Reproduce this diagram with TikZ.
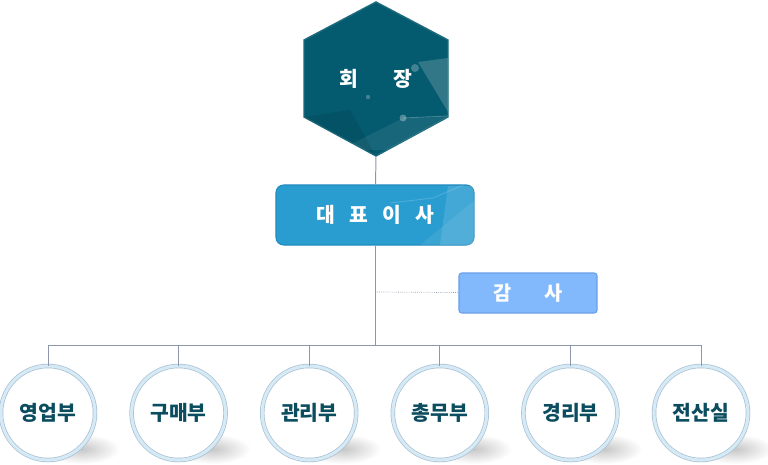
\documentclass[tikz,border=0pt]{standalone}
\usepackage{fontspec}
\newfontfamily\kr{Noto Sans CJK KR}
\usetikzlibrary{calc}
\definecolor{hexfill}{RGB}{4,90,110}
\definecolor{hexedge}{RGB}{30,108,126}
\definecolor{ceofill}{RGB}{42,157,208}
\definecolor{ceoedge}{RGB}{36,140,190}
\definecolor{auditfill}{RGB}{130,184,252}
\definecolor{auditedge}{RGB}{108,160,232}
\definecolor{linkcol}{RGB}{141,150,170}
\definecolor{ringedge}{RGB}{168,192,210}
\definecolor{ringfill}{RGB}{214,234,246}
\definecolor{depttext}{RGB}{11,77,95}

\begin{document}
\begin{tikzpicture}[x=0.025cm, y=-0.025cm,
  title/.style={font=\kr\bfseries\fontsize{14.5}{17}\selectfont, text=white},
  ceobox/.style={rectangle, draw=ceoedge, fill=ceofill, line width=0.8pt,
                 rounded corners=5.5pt, minimum width=4.95cm, minimum height=1.5cm},
  auditbox/.style={rectangle, draw=auditedge, fill=auditfill, line width=0.8pt,
                   rounded corners=2pt, minimum width=3.45cm, minimum height=1.0cm},
  dept/.style={circle, fill=white, draw=ringedge, double=ringfill, double distance=2.2pt,
               line width=0.5pt, minimum size=2.35cm, text=depttext,
               font=\kr\bfseries\fontsize{14.5}{17}\selectfont},
  link/.style={draw=linkcol, line width=0.7pt},
  dotlink/.style={draw=linkcol, line width=0.5pt, densely dotted}
]
\useasboundingbox (0,0) rectangle (768,465);

%% Chairman hexagon
\fill[hexfill, draw=hexedge, line width=1pt]
  (376,2) -- (448,40) -- (448,117) -- (376,156) -- (304,117) -- (304,40) -- cycle;
\begin{scope}
  \clip (376,2) -- (448,40) -- (448,117) -- (376,156) -- (304,117) -- (304,40) -- cycle;
  \fill[white, opacity=0.18] (418,62) -- (448,58) -- (448,112) -- cycle;
  \fill[white, opacity=0.08] (403,118) -- (448,117) -- (420,150) -- (340,150) -- cycle;
  \fill[black, opacity=0.08] (304,117) -- (350,110) -- (376,156) -- cycle;
  \draw[white, opacity=0.25, line width=0.6pt] (403,118) -- (448,116);
  \fill[white, opacity=0.25] (415,68) circle (4);
  \fill[white, opacity=0.25] (368,97) circle (2.2);
  \fill[white, opacity=0.3] (403,118) circle (3.5);
\end{scope}
\node[title] (chair) at (376,79) {회\hspace{1.7em}장};
\coordinate (chairbot) at (376,156);

%% CEO and auditor
\node[ceobox, title] (ceo) at (375,215) {대\hspace{0.7em}표\hspace{0.7em}이\hspace{0.7em}사};
\begin{scope}
  \clip[rounded corners=5.5pt] (ceo.south west) rectangle (ceo.north east);
  \fill[white, opacity=0.12] (448,186) -- (475,186) -- (475,245) -- (440,245) -- cycle;
  \fill[white, opacity=0.08] (420,245) -- (475,200) -- (475,245) -- cycle;
  \draw[white, opacity=0.2, line width=0.5pt] (390,203) -- (433,198) -- (475,180);
\end{scope}
\node[auditbox, title, font=\kr\bfseries\fontsize{14}{16}\selectfont] (audit) at (528,293) {감\hspace{1.7em}사};

\coordinate (tap) at (375,292);
\coordinate (bus) at (375,345);

%% Departments
\foreach \name [count=\i] in {영업부,구매부,관리부,총무부,경리부,전산실} {
  \shade[inner color=black!22, outer color=white]
    ($(48+130.6*\i-130.6,413)+(34,36)$) ellipse (38 and 15);
  \node[dept] (d\i) at (48+130.6*\i-130.6,413) {\name};
}

%% Connectors
\draw[link] (chairbot) -- (ceo);
\draw[link] (ceo) -- (bus);
\draw[dotlink] (tap) -- (audit);
\draw[link] (d1 |- bus) -- (d6 |- bus);
\foreach \i in {1,...,6}
  \draw[link] (d\i) -- (d\i |- bus);
\end{tikzpicture}
\end{document}
